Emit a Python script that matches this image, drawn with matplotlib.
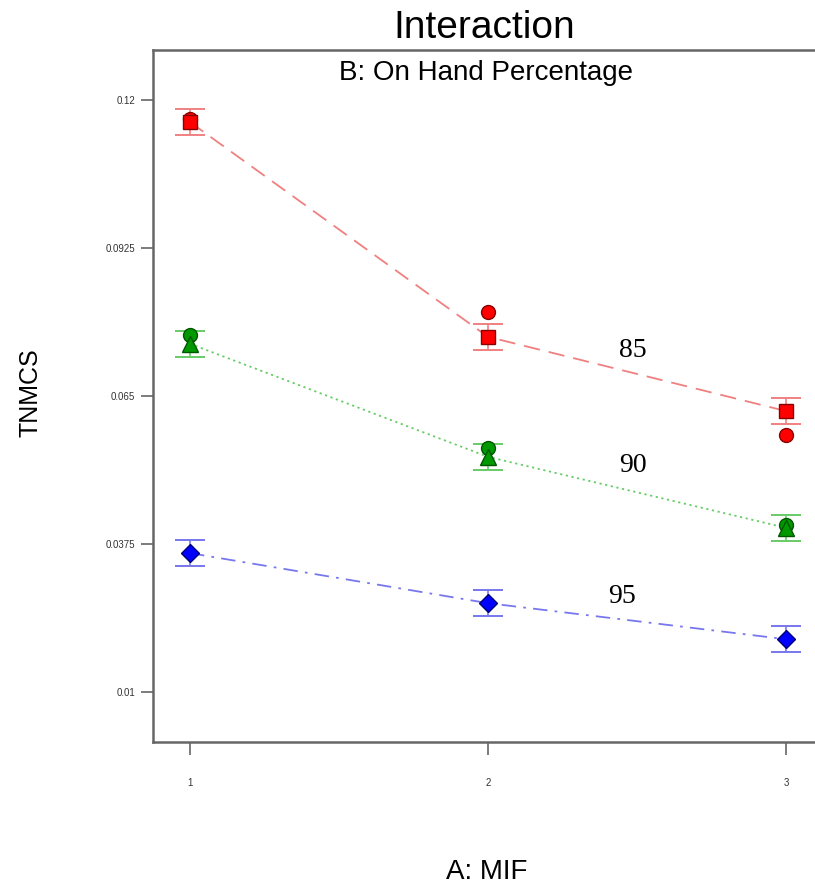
import numpy as np
import matplotlib.pyplot as plt

plt.rcParams['font.family'] = ['Liberation Sans', 'DejaVu Sans']

# A: MIF levels
mif = [1, 2, 3]

# predicted means for each on-hand percentage level
pred_85 = [0.1159, 0.0760, 0.0622]
pred_90 = [0.0747, 0.0537, 0.0405]
pred_95 = [0.0358, 0.0265, 0.0198]
ci = 0.0024

# observed design points
obs_85 = [0.1165, 0.0806, 0.0578]
obs_90 = [0.0763, 0.0553, 0.0410]

fig = plt.figure(figsize=(8.15, 8.93), dpi=100)
ax = fig.add_axes([153 / 815, 1 - 742 / 893, (830 - 153) / 815, (742 - 50) / 893])

series = [
    (pred_85, obs_85, '#ff0000', '#880000', '#f08080', (0, (9, 5)), 's', 10, '85', 0.0735, 2.487),
    (pred_90, obs_90, '#009900', '#005500', '#66cc66', (0, (1.2, 2)), '^', 11, '90', 0.0520, 2.487),
    (pred_95, None, '#0000ff', '#000077', '#7777ee', (0, (8, 4, 1.5, 4)), 'D', 9, '95', 0.0277, 2.45),
]

for pred, obs, col, ecol, lcol, ls, mk, ms, lab, ly, lx in series:
    ax.plot(mif, pred, color=lcol, linestyle=ls, linewidth=1.3, zorder=2)
    ax.errorbar(mif, pred, yerr=ci, fmt='none', ecolor=lcol, elinewidth=1.2,
                capsize=11, capthick=1.4, zorder=3)
    if obs is not None:
        ax.plot(mif, obs, 'o', color=col, markeredgecolor=ecol, markersize=10, zorder=4)
    ax.plot(mif, pred, mk, color=col, markeredgecolor=ecol, markersize=ms, zorder=5)
    ax.text(lx, ly, lab, fontsize=20, family='Liberation Serif', ha='center', va='center')

ax.set_xlim(0.8758, 3.1477)
ax.set_ylim(0.0007, 0.1293)
ax.set_xticks(mif)
ax.set_xticklabels(['1', '2', '3'], fontsize=7)
yt = [0.01, 0.0375, 0.065, 0.0925, 0.12]
ax.set_yticks(yt)
ax.set_yticklabels(['0.01', '0.0375', '0.065', '0.0925', '0.12'], fontsize=7)
ax.tick_params(axis='both', direction='out', length=9, width=1.2, color='#666666', labelcolor='#333333')
ax.tick_params(axis='x', pad=17)
ax.tick_params(axis='y', pad=4)
for s in ax.spines.values():
    s.set_color('#666666')
    s.set_linewidth(1.8)
ax.spines['right'].set_visible(False)

fig.text(486 / 815, 1 - 73 / 893, 'B: On Hand Percentage', ha='center', va='center', fontsize=20)
fig.text(484 / 815, 1 - 28 / 893, 'Interaction', ha='center', va='center', fontsize=28)
fig.text(30 / 815, 1 - 393 / 893, 'TNMCS', rotation=90, ha='center', va='center', fontsize=18)
fig.text(487 / 815, 1 - 872 / 893, 'A: MIF', ha='center', va='center', fontsize=20)

fig.savefig('out.png', dpi=100)
